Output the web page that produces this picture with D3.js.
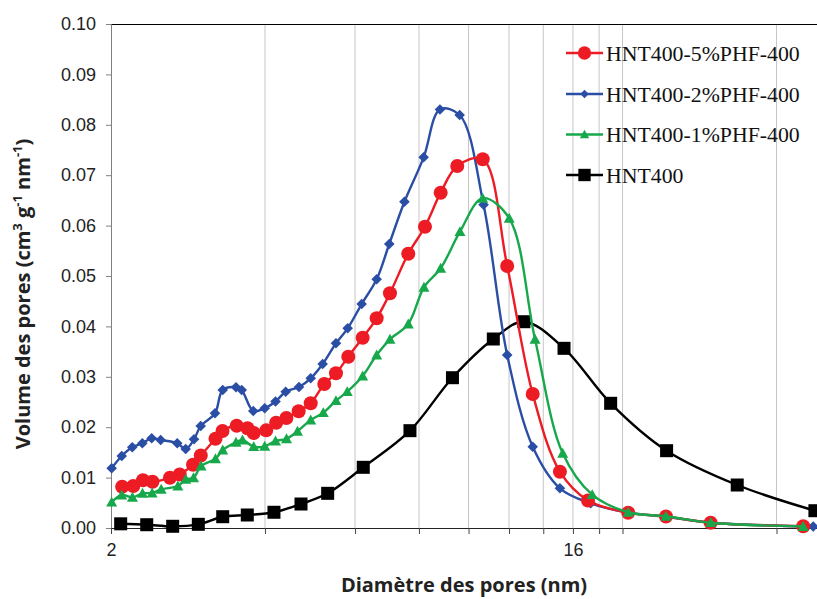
<!DOCTYPE html>
<html><head><meta charset="utf-8">
<script src="https://cdn.jsdelivr.net/npm/d3@7"></script>
<style>body{margin:0;background:#fff}svg{display:block}</style>
</head><body>
<svg id="c" width="817" height="599"></svg>
<script>
// ---- data ----
const xGridValues = [4, 6, 8, 10, 12, 14, 16, 18, 20, 40];
const xTickLabels = [2, 16];
const yTickValues = [0, 0.01, 0.02, 0.03, 0.04, 0.05, 0.06, 0.07, 0.08, 0.09, 0.10];

const names = ["HNT400-5%PHF-400", "HNT400-2%PHF-400", "HNT400-1%PHF-400", "HNT400"];

const x5 = [2.103,2.211,2.310,2.411,2.608,2.725,2.893,2.996,3.201,3.304,3.522,3.697,3.802,4.022,4.207,4.405,4.655,4.914,5.224,5.506,5.820,6.209,6.613,7.021,7.624,8.219,8.821,9.505,10.66,11.90,13.35,15.09,17.12,20.52,24.32,29.74,45.11];
const y5 = [0.00819,0.00833,0.00946,0.00919,0.00996,0.01062,0.01256,0.01438,0.01772,0.01925,0.02028,0.01978,0.01885,0.01938,0.02087,0.02183,0.02317,0.02474,0.02857,0.03069,0.03399,0.03776,0.04161,0.04657,0.05442,0.05978,0.06653,0.07183,0.07315,0.05198,0.02659,0.01117,0.00546,0.00304,0.00228,0.00105,0.00034];

const x2 = [2.006,2.099,2.201,2.303,2.402,2.501,2.695,2.799,2.906,2.995,3.194,3.307,3.511,3.602,3.795,3.995,4.194,4.391,4.662,4.914,5.186,5.506,5.804,6.181,6.613,6.999,7.494,8.171,8.793,9.609,10.70,11.90,13.35,15.09,17.33,20.52,24.32,29.74,47.19];
const y2 = [0.01185,0.01429,0.01601,0.01681,0.01780,0.01746,0.01681,0.01567,0.01760,0.02024,0.02276,0.02738,0.02792,0.02738,0.02321,0.02375,0.02510,0.02704,0.02798,0.02970,0.03254,0.03665,0.03962,0.04444,0.04935,0.05635,0.06474,0.07355,0.08304,0.08194,0.06415,0.03433,0.01613,0.00788,0.00490,0.00304,0.00224,0.00105,0.00030];

const x1 = [2.006,2.099,2.203,2.305,2.407,2.507,2.702,2.800,2.900,3.000,3.201,3.307,3.511,3.615,3.802,3.995,4.194,4.407,4.630,4.914,5.200,5.506,5.793,6.209,6.613,7.021,7.624,8.182,8.821,9.622,10.66,12.01,13.49,15.28,17.45,20.52,24.32,29.76,45.11];
const y1 = [0.00512,0.00655,0.00609,0.00688,0.00694,0.00768,0.00833,0.00966,0.00996,0.01230,0.01373,0.01548,0.01700,0.01746,0.01613,0.01621,0.01726,0.01770,0.01919,0.02143,0.02288,0.02526,0.02704,0.03016,0.03433,0.03744,0.04048,0.04776,0.05153,0.05879,0.06542,0.06145,0.03744,0.01482,0.00661,0.00312,0.00232,0.00105,0.00030];

const x0 = [2.089,2.349,2.640,2.963,3.307,3.694,4.165,4.704,5.304,6.226,7.682,9.302,11.18,12.83,15.37,18.96,24.39,33.52,47.55];
const y0 = [0.00083,0.00065,0.00034,0.00073,0.00224,0.00258,0.00312,0.00476,0.00688,0.01204,0.01931,0.02982,0.03750,0.04093,0.03565,0.02474,0.01534,0.00853,0.00343];

const colors = ["#ED1C24", "#2B4EA5", "#17A84B", "#000000"];
const markers = ["circle", "diamond", "triangle", "square"];

// ---- drawing ----
const svg = d3.select("#c");
const L = 111, R = 817, T = 24, B = 528;
const x = d3.scaleLog().domain([2, 48]).range([L, R]);
const y = d3.scaleLinear().domain([0, 0.1]).range([B, T]);

// gridlines
svg.append("g").selectAll("line").data(xGridValues).join("line")
  .attr("x1", d => x(d)).attr("x2", d => x(d))
  .attr("y1", T).attr("y2", B)
  .attr("stroke", "#c6c6c6").attr("stroke-width", 1);

// top border
svg.append("line").attr("x1", L - 5).attr("x2", R).attr("y1", T + 0.5).attr("y2", T + 0.5)
  .attr("stroke", "#000").attr("stroke-width", 1.2);

// y axis
const yAxis = d3.axisLeft(y).tickValues(yTickValues).tickFormat(d3.format(".2f")).tickSize(5).tickPadding(10);
const gy = svg.append("g").attr("transform", `translate(${L},0)`).call(yAxis);
gy.select(".domain").attr("stroke", "#808080");
gy.selectAll(".tick line").attr("stroke", "#808080");
gy.selectAll("text").attr("font-family", "Liberation Sans, Arial, sans-serif").attr("font-size", 18).attr("fill", "#222");

// x axis
const xAxis = d3.axisBottom(x).tickValues([2].concat(xGridValues)).tickSize(6)
  .tickFormat(d => xTickLabels.includes(d) ? String(d) : "").tickPadding(9);
const gx = svg.append("g").attr("transform", `translate(0,${B})`).call(xAxis);
gx.select(".domain").attr("stroke", "#222").attr("d", `M${L},0.5H${R}`);
gx.selectAll(".tick line").attr("stroke", "#444");
gx.selectAll("text").attr("font-family", "Liberation Sans, Arial, sans-serif").attr("font-size", 18).attr("fill", "#222");

// marker drawer
function marker(g, type, color, cx, cy, s) {
  if (type === "circle") {
    g.append("circle").attr("cx", cx).attr("cy", cy).attr("r", 7 * s).attr("fill", color);
  } else if (type === "square") {
    const h = 6.5 * s;
    g.append("rect").attr("x", cx - h).attr("y", cy - h).attr("width", 2 * h).attr("height", 2 * h).attr("fill", color);
  } else if (type === "diamond") {
    const h = 5.3 * s;
    g.append("path").attr("d", `M${cx},${cy - h}L${cx + h},${cy}L${cx},${cy + h}L${cx - h},${cy}Z`).attr("fill", color);
  } else if (type === "triangle") {
    const w = 5.5 * s, hh = 5.5 * s;
    g.append("path").attr("d", `M${cx},${cy - hh}L${cx + w},${cy + hh * 0.8}L${cx - w},${cy + hh * 0.8}Z`).attr("fill", color);
  }
}

const seriesX = [x5, x2, x1, x0];
const seriesY = [y5, y2, y1, y0];
const line = d3.line().x(d => x(d[0])).y(d => y(d[1])).curve(d3.curveCatmullRom.alpha(0.5));

// draw order: black, blue, red, green
[3, 1, 0, 2].forEach(i => {
  const pts = seriesX[i].map((v, k) => [v, seriesY[i][k]]);
  const g = svg.append("g");
  g.append("path").attr("d", line(pts)).attr("fill", "none")
    .attr("stroke", colors[i]).attr("stroke-width", 2.4);
  pts.forEach(p => marker(g, markers[i], colors[i], x(p[0]), y(p[1]), 1));
});

// legend
const legY = [53, 94, 134.5, 175];
const lg = svg.append("g");
names.forEach((n, i) => {
  lg.append("line").attr("x1", 566).attr("x2", 603).attr("y1", legY[i]).attr("y2", legY[i])
    .attr("stroke", colors[i]).attr("stroke-width", 2.4);
  const sc = [0.95, 0.8, 0.85, 0.95][i];
  marker(lg, markers[i], colors[i], 584.5, legY[i], sc);
  lg.append("text").attr("x", 606).attr("y", legY[i] + 7.5)
    .attr("font-family", "Liberation Serif, Times New Roman, serif").attr("font-size", 21.8)
    .attr("fill", "#111").text(n);
});

// axis titles
svg.append("text").attr("x", 464).attr("y", 592).attr("text-anchor", "middle")
  .attr("font-family", "Open Sans, sans-serif").attr("font-weight", 700).attr("font-size", 20)
  .attr("fill", "#222").text("Diamètre des pores (nm)");

const yt = svg.append("text").attr("transform", "translate(30,294) rotate(-90)").attr("text-anchor", "middle")
  .attr("font-family", "Open Sans, sans-serif").attr("font-weight", 700).attr("font-size", 20).attr("fill", "#222");
yt.append("tspan").text("Volume des pores (cm");
yt.append("tspan").attr("font-size", 13).attr("dy", -8).text("3");
yt.append("tspan").attr("dy", 8).text(" g");
yt.append("tspan").attr("font-size", 13).attr("dy", -8).text("-1");
yt.append("tspan").attr("dy", 8).text(" nm");
yt.append("tspan").attr("font-size", 13).attr("dy", -8).text("-1");
yt.append("tspan").attr("dy", 8).text(")");
</script>
</body></html>
